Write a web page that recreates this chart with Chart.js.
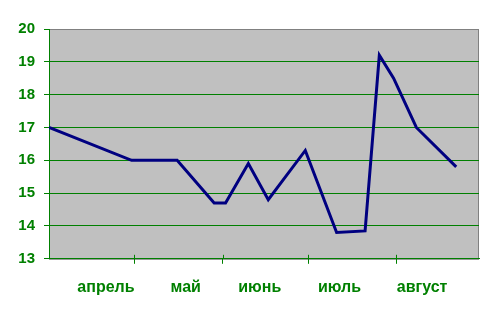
<!DOCTYPE html>
<html>
<head>
<meta charset="utf-8">
<script src="https://cdn.jsdelivr.net/npm/chart.js@4"></script>
<style>
  html, body { margin: 0; padding: 0; background: #fff; }
  #wrap { width: 493px; height: 317px; }
</style>
</head>
<body>
<div id="wrap"><canvas id="c"></canvas></div>
<script>
// month names and where they sit on the day axis
const monthNames = ['апрель', 'май', 'июнь', 'июль', 'август'];
const labelDays = [20, 48, 74, 102, 131];
const monthStartDays = [30, 61, 91, 122];

// measurements: day since 1 April, value
const days = [0, 29, 45, 58, 62, 70, 77, 90, 101, 111, 116, 121, 129, 143];
const temps = [17.0, 16.0, 16.0, 14.7, 14.7, 15.9, 14.8, 16.3, 13.8, 13.85, 19.2, 18.5, 17.0, 15.8];

const green = '#008000';

const plotFrame = {
    id: 'plotFrame',
    beforeDraw(chart) {
        const { ctx, chartArea: a } = chart;
        ctx.save();
        ctx.fillStyle = '#c0c0c0';
        ctx.fillRect(a.left, a.top, a.right - a.left, a.bottom - a.top);
        ctx.strokeStyle = '#808080';
        ctx.lineWidth = 1;
        ctx.strokeRect(a.left + 0.5, a.top + 0.5, a.right - a.left - 1, a.bottom - a.top);
        ctx.restore();
    },
    afterDraw(chart) {
        const { ctx, chartArea: a } = chart;
        const sx = chart.scales.x;
        ctx.save();
        ctx.strokeStyle = green;
        ctx.lineWidth = 1;
        monthStartDays.forEach((d) => {
            const px = Math.round(sx.getPixelForValue(d)) + 0.5;
            ctx.beginPath();
            ctx.moveTo(px, a.bottom - 4);
            ctx.lineTo(px, a.bottom);
            ctx.stroke();
        });
        ctx.restore();
    }
};

new Chart(document.getElementById('c').getContext('2d'), {
    type: 'line',
    data: {
        datasets: [{
            data: days.map((d, i) => ({ x: d, y: temps[i] })),
            borderColor: '#000080',
            borderWidth: 3,
            pointRadius: 0,
            tension: 0,
            fill: false
        }]
    },
    options: {
        responsive: true,
        maintainAspectRatio: false,
        animation: false,
        layout: { padding: { top: 29, right: 14, bottom: 6, left: 0 } },
        plugins: { legend: { display: false }, tooltip: { enabled: false } },
        scales: {
            x: {
                type: 'linear',
                min: 0,
                max: 151,
                afterBuildTicks(scale) {
                    scale.ticks = monthStartDays.concat(labelDays)
                        .sort((a, b) => a - b)
                        .map((v) => ({ value: v }));
                },
                ticks: {
                    autoSkip: false,
                    maxRotation: 0,
                    color: green,
                    font: { family: 'Liberation Sans, Arial', size: 16, weight: 'bold' },
                    padding: 14,
                    callback: (v) => {
                        const i = labelDays.indexOf(v);
                        return i >= 0 ? monthNames[i] : '';
                    }
                },
                grid: {
                    drawOnChartArea: false,
                    tickLength: 5,
                    color: (ctx) => ctx.tick && monthStartDays.includes(ctx.tick.value) ? green : 'rgba(0,0,0,0)'
                },
                border: { color: green, width: 1 }
            },
            y: {
                min: 13,
                max: 20,
                afterFit(scale) { scale.width = 49; },
                ticks: {
                    stepSize: 1,
                    color: green,
                    font: { family: 'Liberation Sans, Arial', size: 15, weight: 'bold' },
                    padding: 9
                },
                grid: {
                    tickLength: 5,
                    color: (ctx) => ctx.tick && ctx.tick.value === 20 ? 'rgba(0,0,0,0)' : green,
                    tickColor: green
                },
                border: { color: green, width: 1 }
            }
        }
    },
    plugins: [plotFrame]
});
</script>
</body>
</html>
